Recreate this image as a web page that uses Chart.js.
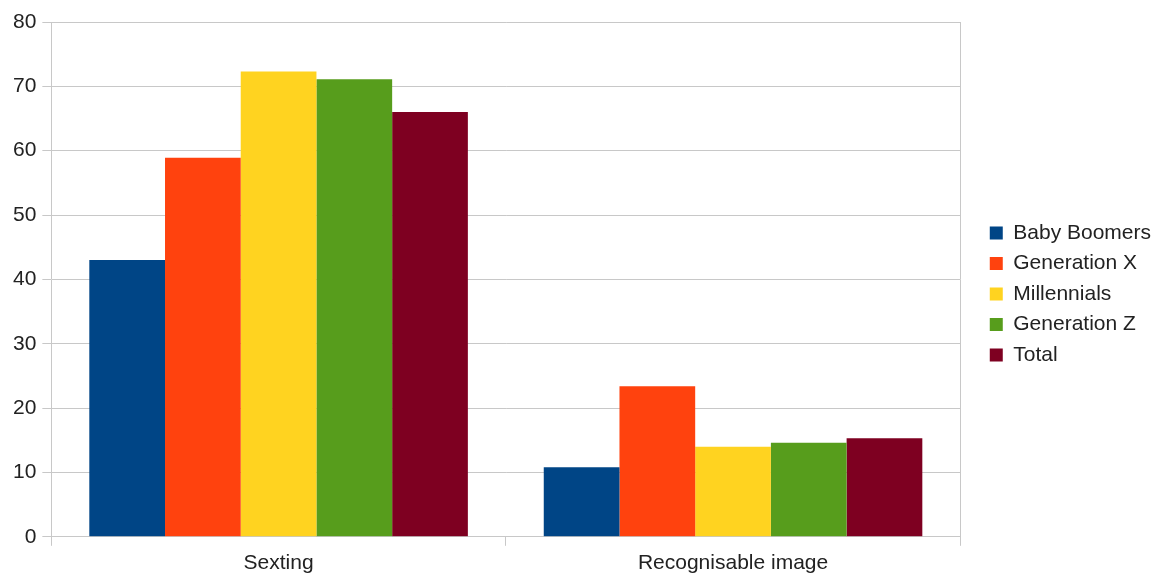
<!DOCTYPE html>
<html>
<head>
<meta charset="utf-8">
<script src="https://cdn.jsdelivr.net/npm/chart.js@4/dist/chart.umd.min.js"></script>
<style>
  html, body { margin: 0; padding: 0; background: #ffffff; }
  #wrap { width: 1164px; height: 577px; }
</style>
</head>
<body>
<div id="wrap"><canvas id="chart" width="1164" height="577"></canvas></div>
<script>
// Categories and per-generation shares (%)
const categories = ['Sexting', 'Recognisable image'];
const babyBoomers = [43, 10.8];
const generationX = [58.9, 23.4];
const millennials = [72.3, 14.0];
const generationZ = [71.1, 14.6];
const total = [66.0, 15.3];
const yTicks = [0, 10, 20, 30, 40, 50, 60, 70, 80];

const seriesNames = ['Baby Boomers', 'Generation X', 'Millennials', 'Generation Z', 'Total'];
const seriesValues = [babyBoomers, generationX, millennials, generationZ, total];
const seriesColors = ['#004586', '#ff420e', '#ffd320', '#579d1c', '#7e0021'];

const FONT = 'Liberation Sans, Arial, sans-serif';
const TEXT = '#222222';
const GRID = '#c8c8c8';

new Chart(document.getElementById('chart'), {
  type: 'bar',
  data: {
    labels: categories,
    datasets: seriesNames.map((name, i) => ({
      label: name,
      data: seriesValues[i],
      backgroundColor: seriesColors[i],
      borderWidth: 0,
      categoryPercentage: 0.833,
      barPercentage: 1.0
    }))
  },
  options: {
    responsive: false,
    animation: false,
    layout: { padding: { left: 7, top: 8, right: 3, bottom: -3 } },
    plugins: {
      legend: {
        position: 'right',
        align: 'center',
        labels: {
          color: TEXT,
          font: { family: FONT, size: 21 },
          boxWidth: 13,
          boxHeight: 13,
          padding: 9.5
        }
      },
      tooltip: { enabled: false }
    },
    scales: {
      x: {
        offset: true,
        grid: {
          offset: true,
          drawOnChartArea: false,
          drawTicks: true,
          tickLength: 9,
          color: GRID
        },
        border: { display: true, color: GRID },
        ticks: { color: TEXT, font: { family: FONT, size: 21 }, padding: 4.5 }
      },
      // empty band above the plot (keeps the legend centred on the whole canvas)
      xTop: {
        type: 'category',
        position: 'top',
        grid: { display: false },
        ticks: { display: false },
        border: { display: false },
        afterFit: (axis) => { axis.height = 14; }
      },
      y: {
        min: 0,
        max: 80,
        afterBuildTicks: (axis) => { axis.ticks = yTicks.map(v => ({ value: v })); },
        grid: { color: GRID, tickLength: 9 },
        border: { display: true, color: GRID },
        ticks: { color: TEXT, font: { family: FONT, size: 21 }, padding: 6 }
      },
      // plain frame line on the right edge of the plot, with a gap before the legend
      yRight: {
        position: 'right',
        min: 0,
        max: 80,
        grid: { display: false },
        ticks: { display: false },
        border: { display: true, color: GRID },
        afterFit: (axis) => { axis.width = 20; }
      }
    }
  }
});
</script>
</body>
</html>
